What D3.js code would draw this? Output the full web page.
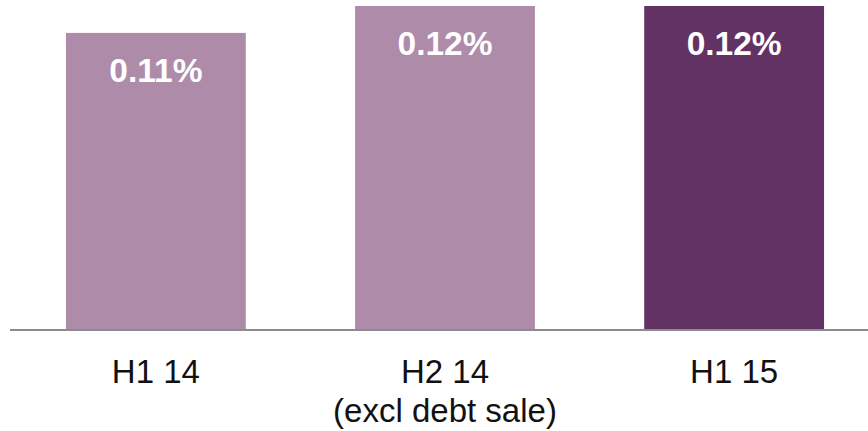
<!DOCTYPE html>
<html>
<head>
<meta charset="utf-8">
<script src="https://cdn.jsdelivr.net/npm/d3@7.9.0/dist/d3.min.js"></script>
<style>
  html, body { margin: 0; padding: 0; background: #fff; }
  svg { display: block; font-family: Arial, "Liberation Sans", sans-serif; }
</style>
</head>
<body>
<svg id="chart" width="868" height="431"></svg>
<script>
const categories = ['H1 14', 'H2 14', 'H1 15'];
const subLabels = ['', '(excl debt sale)', ''];
const values = [0.11, 0.12, 0.12];
const valueLabels = ['0.11%', '0.12%', '0.12%'];
const barColors = ['#ae8ca9', '#ae8ca9', '#633264'];

const width = 868, height = 431;
const baseline = 329;

const svg = d3.select('#chart');

const x = d3.scaleBand()
  .domain(categories)
  .range([11, 879])
  .paddingInner(0.378)
  .paddingOuter(0.19);

const y = d3.scaleLinear()
  .domain([0, 0.12])
  .range([baseline, 6]);

// bars
svg.selectAll('rect.bar')
  .data(categories)
  .join('rect')
  .attr('class', 'bar')
  .attr('x', (d) => x(d))
  .attr('y', (d, i) => y(values[i]))
  .attr('width', x.bandwidth())
  .attr('height', (d, i) => baseline - y(values[i]))
  .attr('fill', (d, i) => barColors[i]);

// value labels inside the bars
svg.selectAll('text.value')
  .data(categories)
  .join('text')
  .attr('class', 'value')
  .attr('x', (d) => x(d) + x.bandwidth() / 2)
  .attr('y', (d, i) => y(values[i]) + 49)
  .attr('text-anchor', 'middle')
  .attr('fill', '#fff')
  .attr('font-weight', 'bold')
  .attr('font-size', 33.5)
  .text((d, i) => valueLabels[i]);

// baseline
svg.append('line')
  .attr('x1', 10)
  .attr('x2', width)
  .attr('y1', baseline + 1)
  .attr('y2', baseline + 1)
  .attr('stroke', '#8c8c8c')
  .attr('stroke-width', 2);

// category labels
const cat = svg.selectAll('text.cat')
  .data(categories)
  .join('text')
  .attr('class', 'cat')
  .attr('x', (d) => x(d) + x.bandwidth() / 2)
  .attr('y', 383)
  .attr('text-anchor', 'middle')
  .attr('fill', '#111')
  .attr('font-size', 33);

cat.append('tspan')
  .attr('x', (d) => x(d) + x.bandwidth() / 2)
  .text((d) => d);

cat.append('tspan')
  .attr('x', (d) => x(d) + x.bandwidth() / 2)
  .attr('dy', 39)
  .text((d, i) => subLabels[i]);
</script>
</body>
</html>
